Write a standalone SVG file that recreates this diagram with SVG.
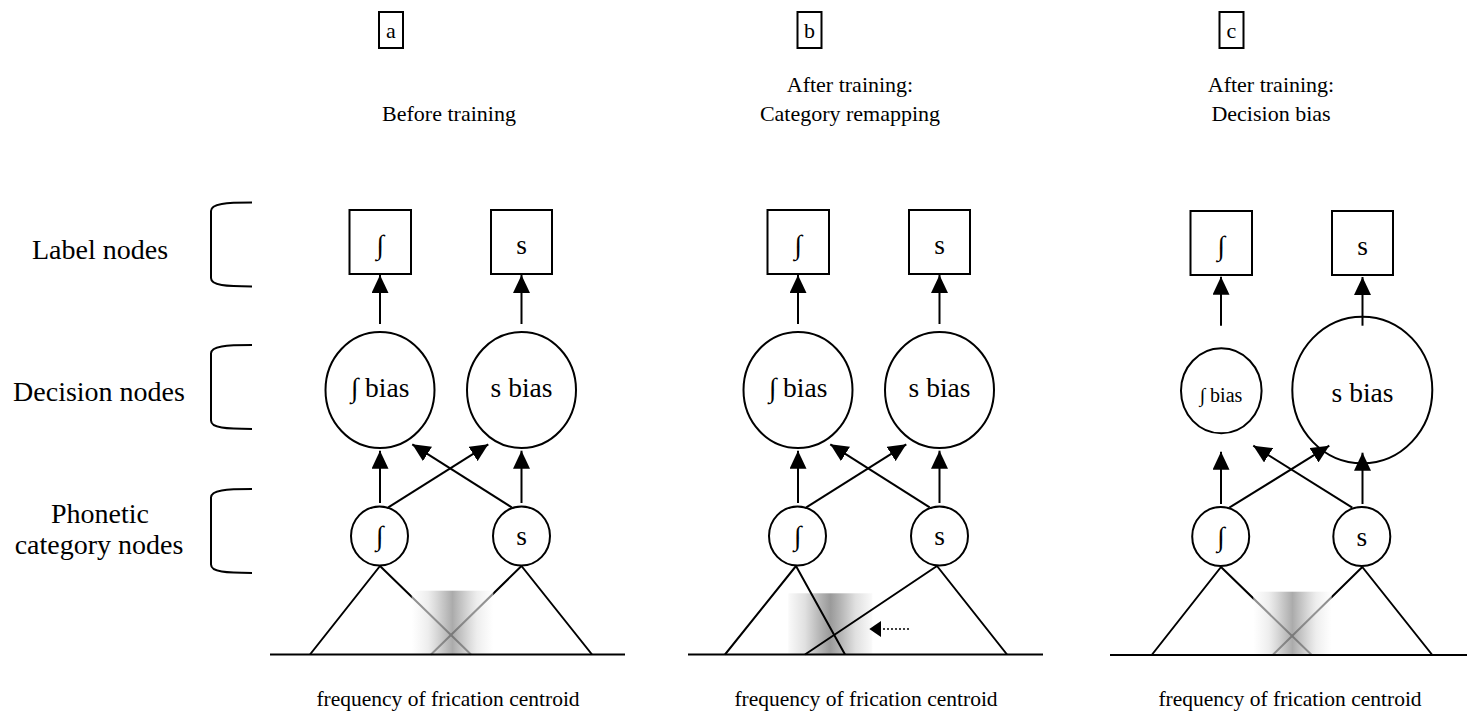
<svg xmlns="http://www.w3.org/2000/svg" width="1480" height="720" viewBox="0 0 1480 720">
<defs>
<marker id="ah" viewBox="0 0 18 17" refX="18" refY="8.5" markerWidth="18" markerHeight="17" markerUnits="userSpaceOnUse" orient="auto">
<path d="M0,0 L18,8.5 L0,17 Z" fill="#000"/>
</marker>
<linearGradient id="gOver" x1="0" y1="0" x2="1" y2="0">
<stop offset="0" stop-color="#ffffff" stop-opacity="0.55"/>
<stop offset="0.2" stop-color="#e4e4e4" stop-opacity="0.65"/>
<stop offset="0.38" stop-color="#b4b4b4" stop-opacity="0.75"/>
<stop offset="0.5" stop-color="#969696" stop-opacity="0.8"/>
<stop offset="0.62" stop-color="#b4b4b4" stop-opacity="0.75"/>
<stop offset="0.8" stop-color="#e4e4e4" stop-opacity="0.65"/>
<stop offset="1" stop-color="#ffffff" stop-opacity="0.55"/>
</linearGradient>
<linearGradient id="gUnder" x1="0" y1="0" x2="1" y2="0">
<stop offset="0" stop-color="#fafafa"/>
<stop offset="0.2" stop-color="#e0e0e0"/>
<stop offset="0.38" stop-color="#b4b4b4"/>
<stop offset="0.5" stop-color="#9a9a9a"/>
<stop offset="0.62" stop-color="#b4b4b4"/>
<stop offset="0.8" stop-color="#e0e0e0"/>
<stop offset="1" stop-color="#fafafa"/>
</linearGradient>
</defs>
<style>
text{font-family:"Liberation Serif","Times New Roman",serif;fill:#000;text-anchor:middle}
.lbl{font-size:28px}
.ttl{font-size:22px}
.nd{font-size:27.5px}
.sm{font-size:20px}
.ax{font-size:21.5px}
.box{fill:#fff;stroke:#000;stroke-width:2}
.nc{fill:#fff;stroke:#000;stroke-width:2}
.ln{fill:none;stroke:#000;stroke-width:2}
.ar{fill:none;stroke:#000;stroke-width:2;marker-end:url(#ah)}
.br{fill:none;stroke:#000;stroke-width:2}
.dot{fill:none;stroke:#000;stroke-width:1.6;stroke-dasharray:2 2}
</style>

<g id="legend">
<path class="br" d="M252,202.5 C226,202.5 211,203.5 211,211 L211,278 C211,285.5 226,286.5 252,286.5"/>
<path class="br" d="M252,345 C226,345 211,346 211,353.5 L211,420.5 C211,428 226,429 252,429"/>
<path class="br" d="M252,489 C226,489 211,490 211,497.5 L211,564.5 C211,572 226,573 252,573"/>
<text class="lbl" x="100" y="259">Label nodes</text>
<text class="lbl" x="99" y="401">Decision nodes</text>
<text class="lbl" x="100" y="523">Phonetic</text>
<text class="lbl" x="99" y="554">category nodes</text>
</g>

<!-- Panel a -->
<g id="panel-a">
<g id="a-title"><rect class="box" x="379" y="12" width="24" height="36"/><text class="ttl" x="391" y="38">a</text><text class="ttl" x="449" y="121">Before training</text></g>
<g id="a-label-sh"><rect class="box" x="349.5" y="210" width="61.5" height="64"/><text class="nd" x="380" y="254">∫</text></g>
<g id="a-label-s"><rect class="box" x="491" y="210" width="61" height="64"/><text class="nd" x="521.5" y="254">s</text></g>
<g id="a-dec-sh"><ellipse class="nc" cx="380" cy="390" rx="54.5" ry="58"/><text class="nd" x="380" y="397">∫ bias</text></g>
<g id="a-dec-s"><ellipse class="nc" cx="521.5" cy="390" rx="54.5" ry="58"/><text class="nd" x="521.5" y="397">s bias</text></g>
<g id="a-ph-sh"><ellipse class="nc" cx="379.5" cy="536" rx="28.5" ry="29.5"/><text class="nd" x="379.5" y="545">∫</text></g>
<g id="a-ph-s"><ellipse class="nc" cx="521.5" cy="536" rx="28.5" ry="29.5"/><text class="nd" x="521.5" y="545">s</text></g>
<g id="a-axis">
<path class="ln" d="M380,566 L310,654.5 M380,566 L471,654.5"/>
<path class="ln" d="M521.5,566 L431,654.5 M521.5,566 L592,654.5"/>
<rect x="411.7" y="590.7" width="81.6" height="63.5" fill="url(#gOver)"/>
<path class="ln" d="M270,654.5 L625,654.5"/>
<text class="ax" x="448" y="706">frequency of frication centroid</text>
</g>
</g>

<!-- Panel b -->
<g id="panel-b">
<g id="b-title"><rect class="box" x="797.5" y="12" width="24" height="36"/><text class="ttl" x="809.5" y="38">b</text><text class="ttl" x="850" y="92">After training:</text><text class="ttl" x="850" y="121">Category remapping</text></g>
<g id="b-label-sh"><rect class="box" x="767.5" y="210" width="61.5" height="64"/><text class="nd" x="798" y="254">∫</text></g>
<g id="b-label-s"><rect class="box" x="909" y="210" width="61" height="64"/><text class="nd" x="939.5" y="254">s</text></g>
<g id="b-dec-sh"><ellipse class="nc" cx="798" cy="390" rx="54.5" ry="58"/><text class="nd" x="798" y="397">∫ bias</text></g>
<g id="b-dec-s"><ellipse class="nc" cx="939.5" cy="390" rx="54.5" ry="58"/><text class="nd" x="939.5" y="397">s bias</text></g>
<g id="b-ph-sh"><ellipse class="nc" cx="797.5" cy="536" rx="28.5" ry="29.5"/><text class="nd" x="797.5" y="545">∫</text></g>
<g id="b-ph-s"><ellipse class="nc" cx="939.5" cy="536" rx="28.5" ry="29.5"/><text class="nd" x="939.5" y="545">s</text></g>
<g id="b-axis">
<rect x="788.3" y="593.3" width="84" height="61.5" fill="url(#gUnder)"/>
<path class="ln" d="M796,566 L725,654.5 M796,566 L845,654.5"/>
<path class="ln" d="M937,566 L805,654.5 M937,566 L1007,654.5"/>
<path class="ln" d="M688,654.5 L1043,654.5"/>
<text class="ax" x="866" y="706">frequency of frication centroid</text>
</g>
</g>

<!-- Panel c -->
<g id="panel-c">
<g id="c-title"><rect class="box" x="1219.5" y="12" width="24" height="36"/><text class="ttl" x="1231.5" y="38">c</text><text class="ttl" x="1271" y="92">After training:</text><text class="ttl" x="1271" y="121">Decision bias</text></g>
<g id="c-label-sh"><rect class="box" x="1190.5" y="211" width="61.5" height="64"/><text class="nd" x="1221" y="255">∫</text></g>
<g id="c-label-s"><rect class="box" x="1332" y="211" width="61" height="64"/><text class="nd" x="1362.5" y="255">s</text></g>
<g id="c-dec-sh"><ellipse class="nc" cx="1221.3" cy="390.8" rx="40.3" ry="42.5"/><text class="sm" x="1221" y="402">∫ bias</text></g>
<g id="c-dec-s"><ellipse class="nc" cx="1362.3" cy="390" rx="70" ry="73.3"/><text class="nd" x="1362.5" y="402">s bias</text></g>
<g id="c-ph-sh"><ellipse class="nc" cx="1220.7" cy="536.5" rx="28.5" ry="29.5"/><text class="nd" x="1220.7" y="546">∫</text></g>
<g id="c-ph-s"><ellipse class="nc" cx="1361.8" cy="536.5" rx="28.5" ry="29.5"/><text class="nd" x="1361.8" y="546">s</text></g>
<g id="c-axis">
<path class="ln" d="M1221,567 L1151.7,655 M1221,567 L1311.7,655"/>
<path class="ln" d="M1362.3,567 L1272.7,655 M1362.3,567 L1432.3,655"/>
<rect x="1253.3" y="591.7" width="78.4" height="63.3" fill="url(#gOver)"/>
<path class="ln" d="M1110,655 L1467,655"/>
<text class="ax" x="1290" y="706">frequency of frication centroid</text>
</g>
</g>

<g id="connectors">
<line class="ar" x1="380" y1="324" x2="380" y2="275"/>
<line class="ar" x1="521.5" y1="324" x2="521.5" y2="275"/>
<line class="ar" x1="380" y1="503" x2="380" y2="450.7"/>
<line class="ar" x1="521.5" y1="503" x2="521.5" y2="450.7"/>
<line class="ar" x1="388.3" y1="507.3" x2="488.3" y2="444.3"/>
<line class="ar" x1="511.7" y1="507.3" x2="412.3" y2="444.3"/>
<line class="ar" x1="798" y1="324" x2="798" y2="275"/>
<line class="ar" x1="939.5" y1="324" x2="939.5" y2="275"/>
<line class="ar" x1="798" y1="503" x2="798" y2="450.7"/>
<line class="ar" x1="939.5" y1="503" x2="939.5" y2="450.7"/>
<line class="ar" x1="806.3" y1="507.3" x2="906.3" y2="444.3"/>
<line class="ar" x1="929.7" y1="507.3" x2="830.3" y2="444.3"/>
<line class="dot" x1="909" y1="629" x2="880" y2="629"/>
<path d="M869.3,629 L881,621 L881,637 Z" fill="#000"/>
<line class="ar" x1="1221" y1="325.7" x2="1221" y2="276.7"/>
<line class="ar" x1="1362.5" y1="325.7" x2="1362.5" y2="277"/>
<line class="ar" x1="1221" y1="504" x2="1221" y2="451.7"/>
<line class="ar" x1="1362.5" y1="504" x2="1362.5" y2="452.7"/>
<line class="ar" x1="1229.3" y1="507.7" x2="1329.3" y2="445.7"/>
<line class="ar" x1="1352.3" y1="507.7" x2="1253.3" y2="445.7"/>
</g>
</svg>
